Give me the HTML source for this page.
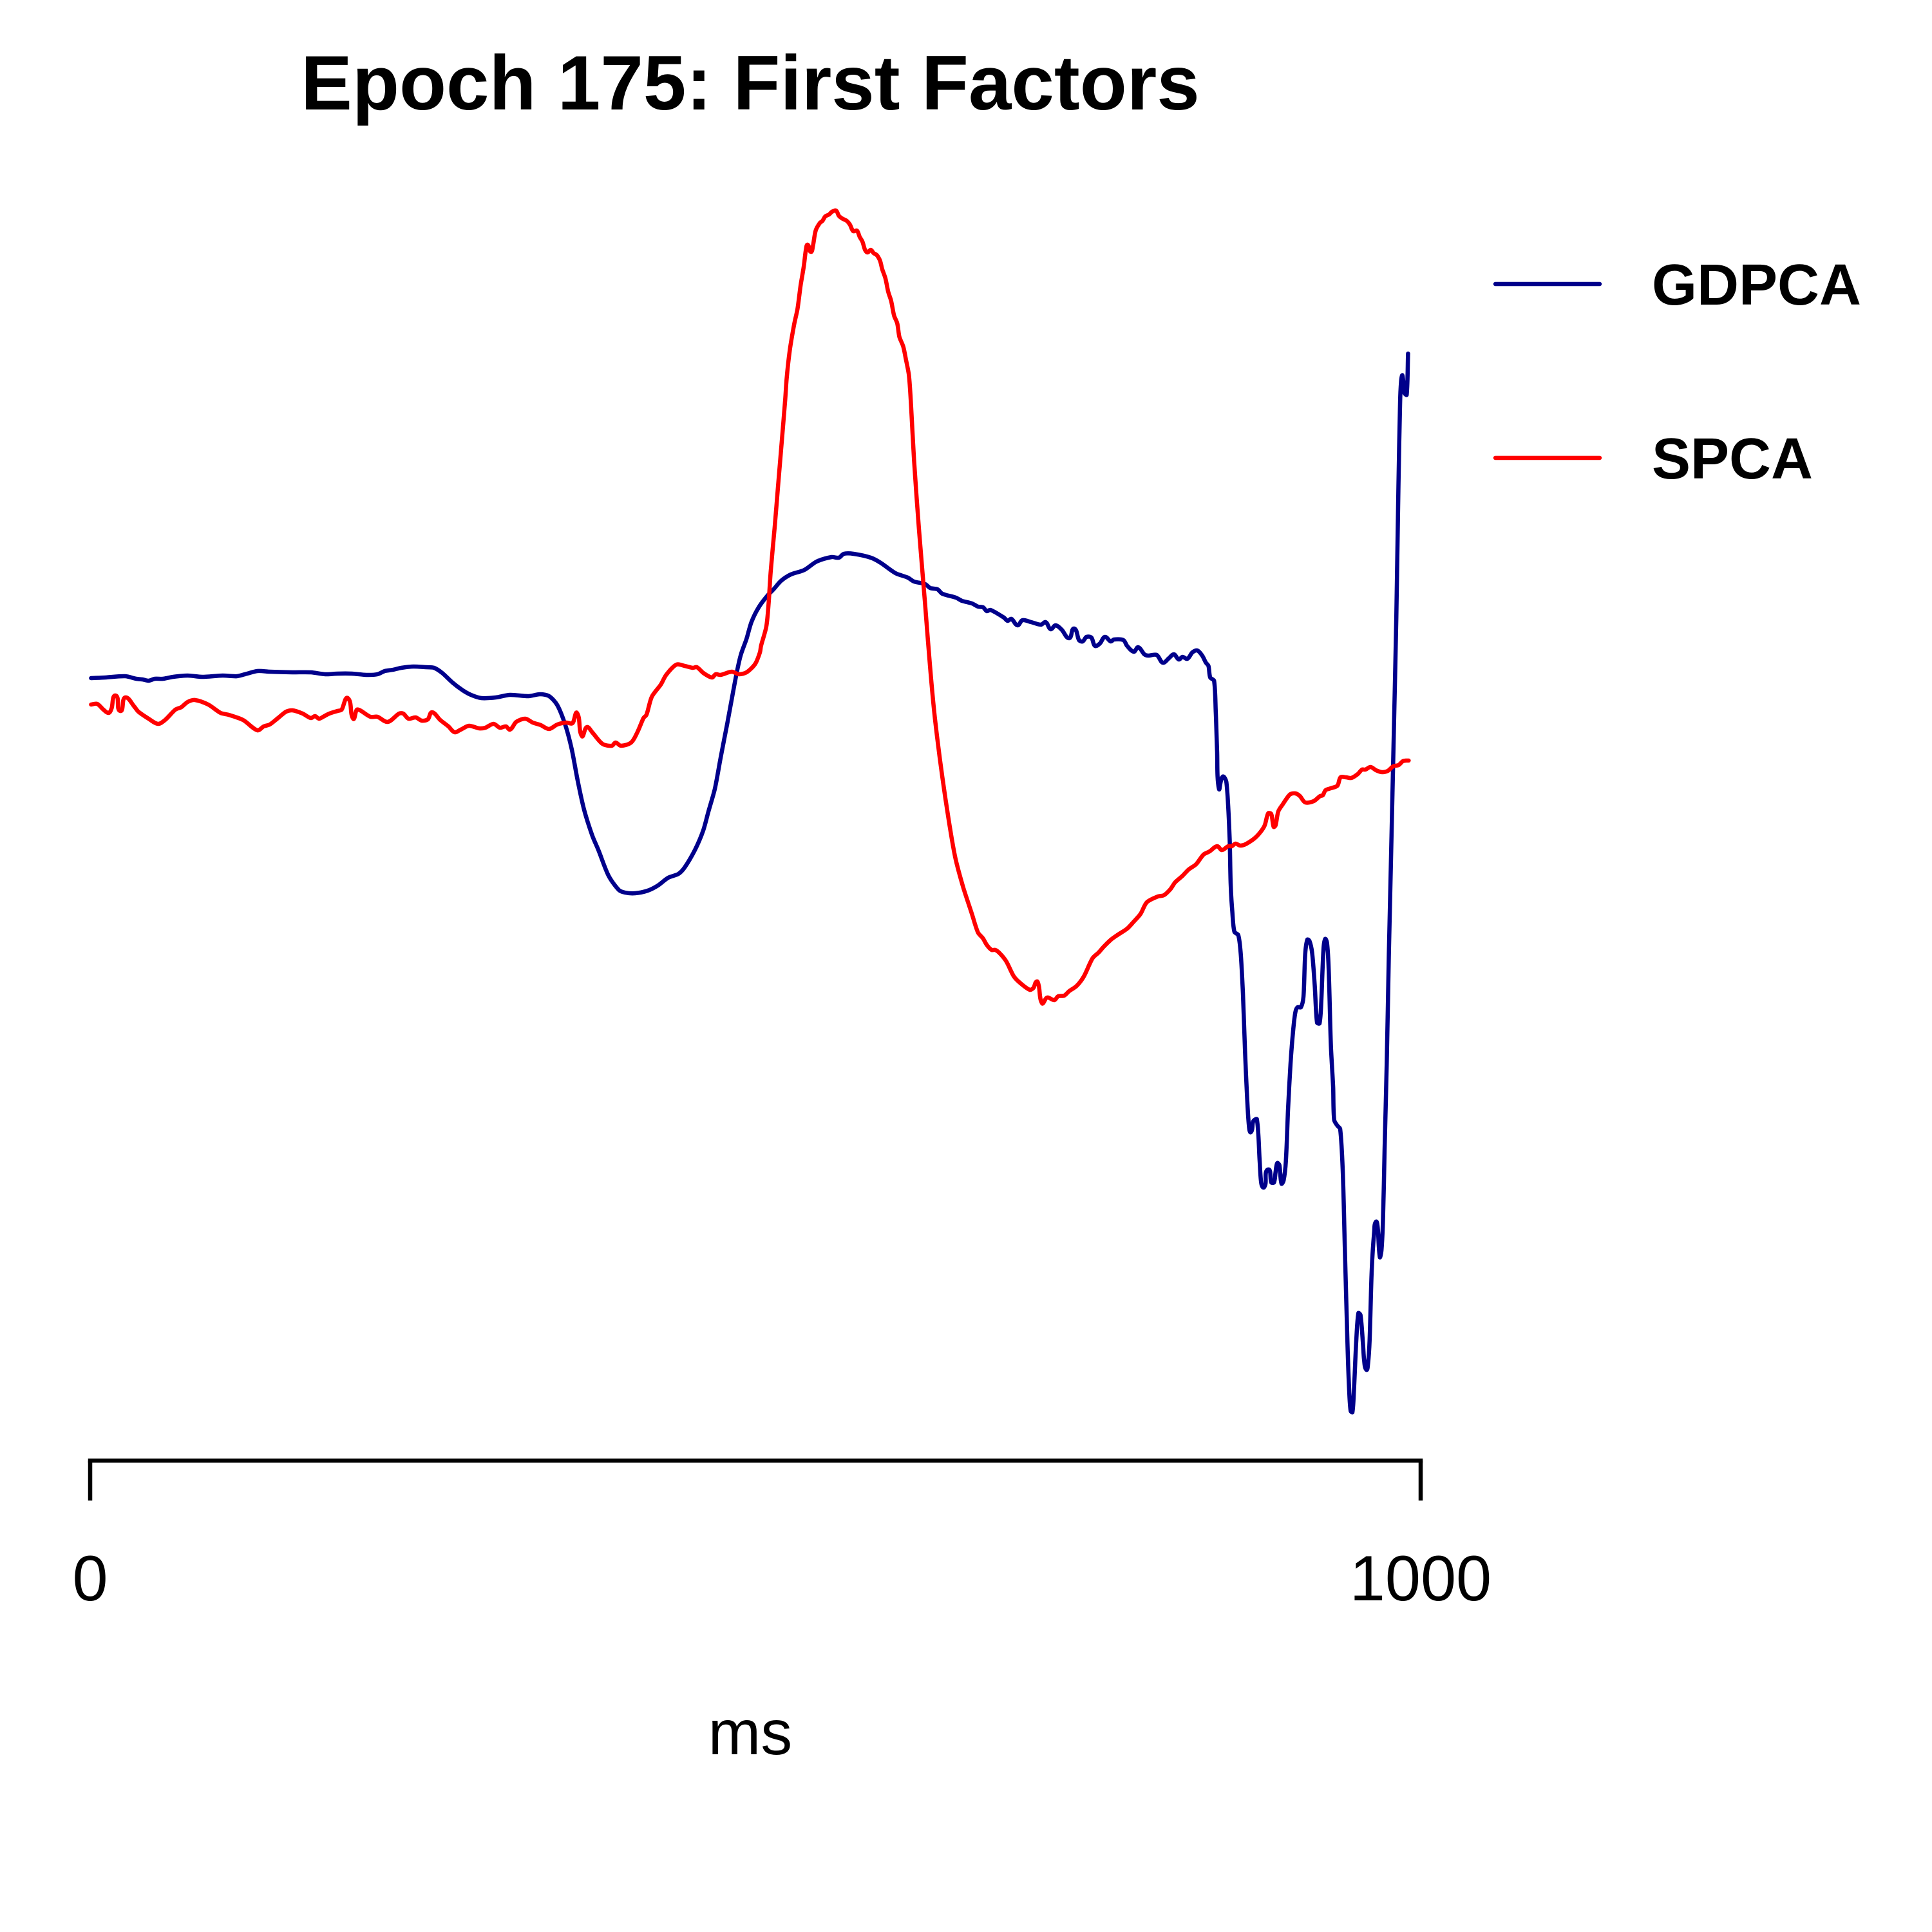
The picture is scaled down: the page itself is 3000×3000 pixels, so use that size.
<!DOCTYPE html>
<html lang="en">
<head>
<meta charset="utf-8">
<title>Epoch 175: First Factors</title>
<style>
html,body{margin:0;padding:0;background:#fff;}
svg{display:block;}
text{font-family:"Liberation Sans",Arial,sans-serif;fill:#000;}
</style>
</head>
<body>
<svg id="chart" xmlns="http://www.w3.org/2000/svg" width="3000" height="3000" viewBox="0 0 3000 3000">
  <rect x="0" y="0" width="3000" height="3000" fill="#ffffff"/>
  <text x="1165" y="170" font-size="119.6" font-weight="700" text-anchor="middle">Epoch 175: First Factors</text>
  <g id="series-layer"></g>
  <g id="axis-layer"></g>
  <text x="1165" y="2724" font-size="98" text-anchor="middle">ms</text>
  <g>
    <g>
      <line x1="2322" y1="441" x2="2484" y2="441" stroke="#00008b" stroke-width="6.5" stroke-linecap="round"/>
      <text x="2565" y="473" font-size="90" font-weight="700">GDPCA</text>
    </g>
    <g>
      <line x1="2322" y1="711" x2="2484" y2="711" stroke="#ff0000" stroke-width="6.5" stroke-linecap="round"/>
      <text x="2565" y="743" font-size="90" font-weight="700">SPCA</text>
    </g>
  </g>
</svg>
<script>
const xTicks = [0, 1000];
const gdpcaMs = [
0.7,11.5,26.3,34.7,39.3,43.9,48.6,54.7,62.4,73.3,84.1,99.5,110.3,118,125.7,135,152,165.9,176.7,185.9,196.7,207.5,215.9,221.4,227.6,233.8,243,252.3,258.5,264.6,272.4,280.1,286.2,294,304.8,315.6,329.5,338.1,344.9,351.1,357.3,361.9,366.5,371.2,377.3,382,389.7,397.4,402,409.7,419,426.7,434.4,442.1,446.8,454.5,460.7,464.7,469.5,474,478.7,
482.7,485.9,489,493.3,497,502.5,509,513.7,519.2,526.6,536.8,546,557.2,562.7,566.4,573.8,586.8,594.2,605.3,614.6,619.2,627.6,631.3,636.8,640.5,650.7,655.3,662.7,667.4,671.1,673.9,676.6,686.8,689.6,692.4,697,700.7,707.2,714.6,
718.2,721.9,725.6,730.3,735.8,739.5,743.2,746,748.8,752.5,755.3,759,762.7,767,769.5,776.6,779.4,784.4,787.7,792.3,795.1,801.6,806.2,810.8,814.5,818.2,821,824.7,828.4,832.1,835.8,838.6,840.5,841.8,844.7,846,847,848.4,851.2,854,
856.4,857.2,858.4,860,862.9,864.8,866.4,868,869.3,870.9,872.4,874.2,876.9,879,880.1,881.7,883.3,885.3,887.7,889.8,890.9,892.2,893.8,895.4,897,898.7,900.3,902.2,904.3,905.9,907.5,910,911.9,913.2,914.8,916.4,918.4,920.4,922.1,924,925.3,926.9,928.2,929.6,930.9,932.5,934.2,935,937.4,939.5,941.4,943,945,946.3,947.4,948.7,949.8,951.6,953.2,954.8,956.7,957.5,959.2,960.4,961.6,963.2,965.1,966.4,967.7,969.3,970.5,971.7,972.9,974.5,976.1,977.7,
980.1,981.7,983.3,984.5,985.3,986.3,987.7,989.5,990.5
];
const gdpcaValues = [
2.47,2.48,2.50,2.46,2.45,2.43,2.46,2.46,2.49,2.51,2.49,2.51,2.50,2.54,2.58,2.57,2.56,2.56,2.53,2.54,2.54,2.52,2.53,2.58,2.60,2.63,2.65,2.64,2.63,2.55,2.40,2.28,2.21,2.16,2.17,2.21,2.19,2.22,2.19,2.05,1.73,1.37,0.87,0.43,0.03,-0.20,-0.60,-0.82,-0.86,-0.87,-0.83,-0.75,-0.63,-0.57,-0.47,-0.20,0.10,0.40,0.75,1.25,1.75,
2.20,2.55,2.83,3.08,3.34,3.57,3.75,3.85,3.98,4.08,4.15,4.28,4.35,4.34,4.40,4.40,4.34,4.26,4.10,4.03,3.97,3.93,3.87,3.85,3.78,3.72,3.67,3.63,3.58,3.57,3.51,3.53,3.41,3.36,3.39,3.29,3.37,3.34,3.30,
3.34,3.23,3.29,3.22,3.09,3.24,3.06,3.04,3.11,3.10,2.97,3.01,3.11,3.04,3.07,3.06,2.97,2.88,2.95,2.84,2.82,2.83,2.71,2.78,2.84,2.76,2.80,2.77,2.87,2.90,2.82,2.71,2.66,2.48,2.43,1.95,1.34,0.75,0.94,0.85,
0,-0.73,-1.15,-1.47,-1.52,-1.82,-2.42,-3.33,-3.94,-4.48,-4.58,-4.41,-4.38,-5.03,-5.36,-5.44,-5.39,-5.16,-5.36,-5.36,-5.21,-5.06,-5.09,-5.38,-5.33,-5.03,-4.24,-3.52,-2.97,-2.71,-2.64,-2.64,-2.48,-1.82,-1.59,-1.61,-1.79,-2.30,-2.88,-2.89,-2.55,-1.76,-1.58,-1.64,-2.06,-3.21,-3.88,-4.39,-4.48,-4.53,-5.15,-6.36,-7.88,-8.61,-8.91,-8.93,-8.61,-7.82,-7.39,-7.42,-7.88,-8.12,-8.27,-8.18,-7.82,-6.73,-6.12,-5.97,-6.06,-6.52,-6.42,-5.94,-4.85,-3.52,-1.82,-0.36,
1.88,3.41,5.45,6.72,7.08,7.17,6.90,6.87,7.51
];
const spcaMs = [
0.7,5.3,10,14,16.1,19.2,22.6,26.3,33.1,36.2,43.9,51,56.3,64,68.6,73.3,78.8,88.7,98,104.1,114.9,125.7,130.4,135,141.2,147.3,152,159.7,165.9,169,172,175.1,179.8,185.9,189,193.6,197.7,200.4,202.9,210.6,215.9,223.6,232.2,235.3,239.3,244.6,249.2,253.8,256.9,263.1,269.3,273.9,278.5,284.7,292.4,297,303.2,307.9,312.5,315.6,320.2,327,332.6,338.7,344.9,351.1,357.9,362.5,365.9,369.6,373.3,377.3,385,392.1,394.9,398.9,406.6,411.3,415.9,418.1,422.1,428.9,432.9,440.6,446.8,452.9,456,
460.9,467.4,470.1,473.8,482.2,487.7,493.3,499.8,
503.4,504.2,508.2,509.9,511.5,514.4,517.1,519.5,522.4,523.5,525.9,529.2,531.6,534,536.4,538,539.3,541.6,543.2,545.3,548.5,550.4,552.5,555.4,557.4,560.6,562.7,565,568.7,571.1,573.5,576.3,578.4,580.4,582.4,584.3,586.7,588.8,591.2,593.7,595.3,597.7,599.8,602,604.2,606.6,608.2,611.1,613,615.4,617,619.2,622.9,
627.5,631.2,634.9,640.5,646.9,650.6,656.2,662.7,667.3,671,673.8,677.5,680.3,684,688.6,694.2,698.8,706.2,709,711.4,713,715.5,719.2,724.7,727.5,732.1,735.8,741.4,746.9,753.4,758,761.8,767.3,772,779.4,784,789.5,794.2,802.5,807.1,811.8,815.5,821,825.7,831.2,836.8,841.4,847,850.7,855.3,858.1,860.8,864.5,869.2,876.6,
882.5,885.4,887.7,889.5,890.9,893,896.3,900.3,902.2,905.9,909.2,913.2,919.6,924.5,926.4,928.5,932.5,937.4,939.8,943.8,947.9,952.7,955.9,958.4,962.4,966.4,970.9,975.3,979.3,983.4,986.6,989,991
];
const spcaValues = [
2.06,2.07,1.98,1.93,2.00,2.20,1.96,2.17,2.03,1.95,1.84,1.76,1.82,1.98,2.02,2.10,2.13,2.06,1.93,1.90,1.82,1.66,1.72,1.75,1.85,1.95,1.97,1.92,1.85,1.88,1.84,1.87,1.92,1.96,1.98,2.16,1.84,1.98,1.97,1.87,1.87,1.79,1.92,1.92,1.84,1.86,1.81,1.83,1.94,1.82,1.72,1.63,1.67,1.73,1.69,1.70,1.76,1.70,1.72,1.67,1.79,1.84,1.78,1.74,1.68,1.75,1.78,1.77,1.93,1.57,1.71,1.63,1.45,1.42,1.47,1.42,1.47,1.63,1.85,1.90,2.18,2.37,2.52,2.68,2.66,2.63,2.64,
2.55,2.48,2.53,2.52,2.57,2.53,2.56,2.69,
2.87,2.97,3.27,3.63,4.13,4.80,5.47,6.07,6.80,7.13,7.57,7.97,8.2,8.57,8.87,9.13,9.2,9.09,9.18,9.42,9.54,9.57,9.64,9.67,9.71,9.73,9.65,9.61,9.57,9.51,9.41,9.42,9.32,9.25,9.12,9.08,9.12,9.07,9.04,8.95,8.82,8.68,8.47,8.33,8.1,7.98,7.77,7.62,7.43,7.17,6.7,5.86,4.79,
3.63,2.66,1.85,0.93,0.06,-0.35,-0.78,-1.19,-1.48,-1.57,-1.67,-1.75,-1.75,-1.81,-1.93,-2.16,-2.26,-2.37,-2.34,-2.24,-2.31,-2.58,-2.49,-2.53,-2.47,-2.46,-2.39,-2.31,-2.16,-1.88,-1.79,-1.70,-1.59,-1.52,-1.42,-1.32,-1.19,-1.01,-0.92,-0.90,-0.81,-0.70,-0.60,-0.50,-0.42,-0.27,-0.22,-0.14,-0.20,-0.14,-0.14,-0.10,-0.13,-0.10,0.01,
0.17,0.37,0.36,0.16,0.18,0.40,0.51,0.63,0.67,0.68,0.64,0.54,0.56,0.64,0.65,0.73,0.76,0.80,0.93,0.93,0.92,0.98,1.05,1.05,1.09,1.04,1.01,1.03,1.10,1.12,1.18,1.19,1.19
];

const SVG_NS = 'http://www.w3.org/2000/svg';
function xScale(ms) { return 140 + ms * 2.066; }
function yScale(v) { return 1300 - v * 100; }

const seriesLayer = document.getElementById('series-layer');
const axisLayer = document.getElementById('axis-layer');

// Smooth path through every sample; handle length follows each segment's chord so short spikes do not overshoot.
function smoothPath(msValues, amplitudes) {
  const n = Math.min(msValues.length, amplitudes.length);
  const pts = [];
  for (let i = 0; i < n; i++) {
    pts.push([xScale(msValues[i]), yScale(amplitudes[i])]);
  }
  function tangent(i) {
    const a = pts[Math.max(i - 1, 0)];
    const b = pts[Math.min(i + 1, n - 1)];
    const dx = b[0] - a[0];
    const dy = b[1] - a[1];
    const len = Math.hypot(dx, dy) || 1;
    return [dx / len, dy / len];
  }
  let d = 'M' + pts[0][0].toFixed(1) + ' ' + pts[0][1].toFixed(1);
  for (let i = 0; i < n - 1; i++) {
    const p = pts[i];
    const q = pts[i + 1];
    const chord = Math.hypot(q[0] - p[0], q[1] - p[1]);
    const t0 = tangent(i);
    const t1 = tangent(i + 1);
    const h = chord * 0.28;
    d += 'C' + (p[0] + t0[0] * h).toFixed(1) + ' ' + (p[1] + t0[1] * h).toFixed(1) + ' ' +
         (q[0] - t1[0] * h).toFixed(1) + ' ' + (q[1] - t1[1] * h).toFixed(1) + ' ' +
         q[0].toFixed(1) + ' ' + q[1].toFixed(1);
  }
  return d;
}

const gdpcaLine = document.createElementNS(SVG_NS, 'path');


gdpcaLine.setAttribute('d', smoothPath(gdpcaMs, gdpcaValues));
gdpcaLine.setAttribute('fill', 'none');
gdpcaLine.setAttribute('stroke', '#00008b');
gdpcaLine.setAttribute('stroke-width', '6.5');
gdpcaLine.setAttribute('stroke-linejoin', 'round');
gdpcaLine.setAttribute('stroke-linecap', 'round');
seriesLayer.appendChild(gdpcaLine);

const spcaLine = document.createElementNS(SVG_NS, 'path');


spcaLine.setAttribute('d', smoothPath(spcaMs, spcaValues));
spcaLine.setAttribute('fill', 'none');
spcaLine.setAttribute('stroke', '#ff0000');
spcaLine.setAttribute('stroke-width', '6.5');
spcaLine.setAttribute('stroke-linejoin', 'round');
spcaLine.setAttribute('stroke-linecap', 'round');
seriesLayer.appendChild(spcaLine);

const axisY = 2268;
const axisLine = document.createElementNS(SVG_NS, 'line');


axisLine.setAttribute('x1', xScale(xTicks[0]));
axisLine.setAttribute('x2', xScale(xTicks[xTicks.length - 1]));
axisLine.setAttribute('y1', axisY);
axisLine.setAttribute('y2', axisY);
axisLine.setAttribute('stroke', '#000');
axisLine.setAttribute('stroke-width', '6.5');
axisLine.setAttribute('stroke-linecap', 'square');
axisLayer.appendChild(axisLine);

xTicks.forEach(function (tick) {
  const mark = document.createElementNS(SVG_NS, 'line');
  
  
  mark.setAttribute('x1', xScale(tick));
  mark.setAttribute('x2', xScale(tick));
  mark.setAttribute('y1', axisY);
  mark.setAttribute('y2', axisY + 62);
  mark.setAttribute('stroke', '#000');
  mark.setAttribute('stroke-width', '6.5');
  axisLayer.appendChild(mark);

  const label = document.createElementNS(SVG_NS, 'text');
  
  
  label.setAttribute('x', xScale(tick));
  label.setAttribute('y', 2485);
  label.setAttribute('font-size', '99');
  label.setAttribute('text-anchor', 'middle');
  label.textContent = String(tick);
  axisLayer.appendChild(label);
});
</script>
</body>
</html>
